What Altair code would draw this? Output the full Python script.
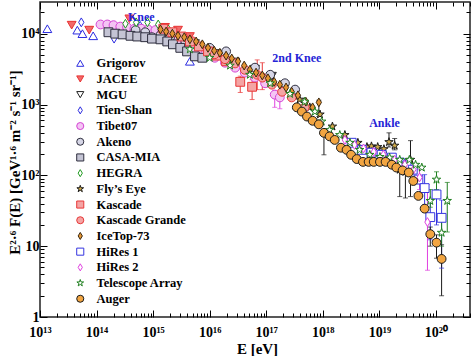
import json
import altair as alt
import pandas as pd

# ---------------- data (log10 E [eV], log10 E^2.6 F) ----------------
experiments = ["Grigorov", "JACEE", "MGU", "Tien-Shan", "Tibet07", "Akeno", "CASA-MIA",
               "HEGRA", "Fly\u2019s Eye", "Kascade", "Kascade Grande", "IceTop-73",
               "HiRes 1", "HiRes 2", "Telescope Array", "Auger"]

grigorov_e = [13.13, 13.66, 13.75, 13.94, 14.77, 15.09, 15.65]
grigorov_f = [4.07, 4.05, 4.00, 3.97, 4.12, 4.12, 3.61]
jacee_e = [13.56, 13.87, 14.58, 15.21, 15.44, 15.65]
jacee_f = [4.12, 4.05, 4.21, 4.09, 4.05, 3.96]
mgu_e = [15.39, 15.74, 16.09, 16.45, 16.80, 17.10]
mgu_f = [3.93, 3.86, 3.72, 3.60, 3.50, 3.40]
tienshan_e = [13.73, 14.31, 15.57, 15.83, 16.09]
tienshan_f = [4.16, 3.93, 3.86, 3.76, 3.67]
tibet_e = [14.07, 14.19, 14.30, 14.42, 14.54, 14.67, 14.79, 14.91, 15.04, 15.16, 15.30,
           15.44, 15.58, 15.74, 15.92, 16.09, 16.27, 16.45, 16.62, 16.80, 16.98, 17.15, 17.24]
tibet_f = [4.13, 4.13, 4.12, 4.10, 4.09, 4.07, 4.07, 4.06, 4.05, 4.02, 3.97,
           3.92, 3.86, 3.79, 3.72, 3.66, 3.59, 3.52, 3.45, 3.38, 3.30, 3.14, 3.10]
akeno_e = [14.69, 14.86, 14.98, 15.13, 15.30, 15.57, 16.00, 16.29, 16.80, 17.07, 17.33, 17.51]
akeno_f = [4.05, 4.02, 3.95, 3.98, 3.95, 3.89, 3.80, 3.75, 3.52, 3.42, 3.30, 3.21]
casamia_e = [14.21, 14.33, 14.46, 14.60, 14.72, 14.86, 14.98, 15.13, 15.25, 15.35, 15.48,
             15.60, 15.74, 15.87]
casamia_f = [4.02, 4.00, 3.99, 3.97, 3.96, 3.95, 3.93, 3.92, 3.89, 3.85, 3.80,
             3.75, 3.68, 3.66]
hegra_e = [14.51, 14.70, 14.90, 15.09, 15.27]
hegra_f = [4.14, 4.16, 4.16, 4.13, 4.06]
flys_e = [17.59, 17.77, 17.95, 18.17, 18.39, 18.62, 18.78, 18.86, 18.97, 19.08, 19.17,
          19.27, 19.36, 19.46, 19.55]
flys_f = [3.07, 2.96, 2.86, 2.69, 2.57, 2.46, 2.40, 2.41, 2.40, 2.37, 2.47,
          2.42, 2.08, 2.05, 2.22]
kascade_e = [15.18, 15.34, 15.50, 15.65, 15.81, 15.97, 16.13, 16.29, 16.54, 16.75]
kascade_f = [4.07, 4.02, 3.96, 3.89, 3.82, 3.75, 3.69, 3.61, 3.32, 3.25]
kgrande_e = [16.09, 16.27, 16.45, 16.62, 16.84, 16.93, 17.10, 17.28, 17.45, 17.68]
kgrande_f = [3.71, 3.64, 3.58, 3.49, 3.42, 3.38, 3.28, 3.18, 3.10, 2.96]
icetop_e = [15.13, 15.23, 15.34, 15.44, 15.55, 15.65, 15.76, 15.87, 15.97, 16.08, 16.18,
            16.29, 16.39, 16.50, 16.61, 16.71, 16.82, 16.93, 17.03, 17.14, 17.24, 17.35,
            17.45, 17.56, 17.70, 17.82, 17.93]
icetop_f = [4.06, 4.03, 4.00, 3.97, 3.95, 3.92, 3.89, 3.85, 3.80, 3.76, 3.73,
            3.69, 3.65, 3.61, 3.55, 3.49, 3.45, 3.41, 3.37, 3.32, 3.28, 3.24,
            3.18, 3.13, 3.04, 2.96, 3.03]
hires1_e = [18.51, 18.69, 18.86, 19.04, 19.22, 19.36, 19.48, 19.59, 19.69, 19.80, 19.90,
            20.01, 20.10]
hires1_f = [2.46, 2.36, 2.32, 2.29, 2.25, 2.18, 2.14, 2.08, 1.94, 1.82, 1.41, 1.73, 1.40]
hires2_e = [18.12, 18.39, 18.56, 18.72, 18.90, 19.07, 19.27, 19.45, 19.60, 19.71, 19.85]
hires2_f = [2.60, 2.50, 2.43, 2.38, 2.33, 2.29, 2.22, 2.15, 2.08, 1.97, 1.34]
ta_e = [15.65, 16.00, 16.36, 16.71, 17.07, 17.42, 17.68, 17.86, 17.98, 18.12, 18.30, 18.48,
        18.65, 18.83, 19.01, 19.18, 19.36, 19.53, 19.64, 19.75, 19.90, 20.01, 20.10, 20.20]
ta_f = [3.78, 3.66, 3.55, 3.42, 3.30, 3.15, 3.04, 2.90, 2.76, 2.64, 2.57, 2.46,
        2.36, 2.29, 2.26, 2.25, 2.22, 2.22, 2.15, 2.11, 1.64, 1.94, 1.19, 1.64]
auger_e = [17.54, 17.63, 17.72, 17.82, 17.93, 18.02, 18.12, 18.21, 18.32, 18.42, 18.50, 18.60,
           18.71, 18.81, 18.90, 19.01, 19.11, 19.22, 19.30, 19.41, 19.52, 19.60, 19.69, 19.80,
           19.90, 20.01, 20.10]
auger_f = [2.96, 2.90, 2.83, 2.77, 2.72, 2.60, 2.55, 2.50, 2.39, 2.36, 2.29, 2.23,
           2.19, 2.19, 2.19, 2.19, 2.19, 2.15, 2.11, 2.07, 2.04, 1.92, 1.71, 1.53,
           1.17, 1.05, 0.82]

series_e = [grigorov_e, jacee_e, mgu_e, tienshan_e, tibet_e, akeno_e, casamia_e, hegra_e,
            flys_e, kascade_e, kgrande_e, icetop_e, hires1_e, hires2_e, ta_e, auger_e]
series_f = [grigorov_f, jacee_f, mgu_f, tienshan_f, tibet_f, akeno_f, casamia_f, hegra_f,
            flys_f, kascade_f, kgrande_f, icetop_f, hires1_f, hires2_f, ta_f, auger_f]

# error bars: experiment, log10 E, low, high (log10)
err_exp = ["Tibet07", "Tibet07", "Kascade", "Kascade", "Kascade Grande", "Kascade Grande",
           "IceTop-73", "Fly\u2019s Eye", "Fly\u2019s Eye", "Fly\u2019s Eye", "Fly\u2019s Eye",
           "Fly\u2019s Eye", "HiRes 1", "HiRes 1", "HiRes 1", "HiRes 1", "HiRes 2", "HiRes 2",
           "Telescope Array", "Telescope Array", "Telescope Array", "Telescope Array",
           "Auger", "Auger", "Auger", "Auger"]
err_e = [17.15, 17.24, 16.54, 16.75, 16.84, 16.93,
         17.93, 19.17, 19.27, 19.36, 19.46, 19.55, 19.80, 19.90, 20.01, 20.10, 19.71, 19.85,
         19.90, 20.01, 20.10, 20.20, 18.02, 19.90, 20.01, 20.10]
err_lo = [2.96, 2.94, 3.17, 3.07, 3.21, 3.21,
          2.83, 2.40, 2.36, 1.70, 1.68, 1.70, 1.58, 1.09, 1.30, 0.69, 1.80, 0.66,
          1.55, 1.80, 1.00, 1.20, 2.29, 1.00, 0.83, 0.30]
err_hi = [3.20, 3.18, 3.40, 3.35, 3.63, 3.59,
          3.06, 2.60, 2.52, 2.22, 2.22, 2.49, 2.01, 1.65, 1.94, 1.65, 2.08, 1.87,
          1.80, 2.05, 1.35, 1.90, 2.65, 1.27, 1.16, 1.02]

DIAMOND = "M0,-1L0.6,0L0,1L-0.6,0Z"
STAR = ("M0,-1L0.2245,-0.309L0.951,-0.309L0.363,0.118L0.588,0.809L0,0.382L-0.588,0.809"
        "L-0.363,0.118L-0.951,-0.309L-0.2245,-0.309Z")
shapes = ["triangle-up", "triangle-down", "triangle-down", DIAMOND, "circle", "circle",
          "square", DIAMOND, STAR, "square", "circle", DIAMOND, "square", DIAMOND, STAR,
          "circle"]
strokes = ["#2b2be0", "#e83232", "#202020", "#2b2be0", "#d444d4", "#2e2e3e", "#2e2e3e",
           "#1f9a1f", "#1a1a1a", "#e83838", "#e83838", "#3a2810", "#3535e0", "#e040e0",
           "#1f7f1f", "#1a1a1a"]
fills = ["#ffffff", "#f26a6a", "#ffffff", "#ffffff", "#f4c4f4", "#d6d6e6", "#c4c4d4",
         "#ffffff", "#d2ac4a", "#f4a4a4", "#f4a4a4", "#e39433", "#ffffff", "#ffffff",
         "#ffffff", "#f2a541"]
err_colors = {"Tibet07": "#e040e0", "Kascade": "#e83838", "Kascade Grande": "#e83838",
              "IceTop-73": "#1a1a1a", "Fly\u2019s Eye": "#1a1a1a", "HiRes 1": "#3535e0",
              "HiRes 2": "#e040e0", "Telescope Array": "#1f7f1f", "Auger": "#1a1a1a"}

ann_text = ["Knee", "2nd Knee", "Ankle"]
ann_e = [14.79, 17.54, 19.09]
ann_f = [4.23, 3.66, 2.74]

x_tick_labels = ["10\u00b9\u00b3", "10\u00b9\u2074", "10\u00b9\u2075", "10\u00b9\u2076",
                 "10\u00b9\u2077", "10\u00b9\u2078", "10\u00b9\u2079", "10\u00b2\u2070"]
y_tick_labels = ["1", "10", "10\u00b2", "10\u00b3", "10\u2074"]

# ---------------- tables ----------------
rows = []
for name, es, fs in zip(experiments, series_e, series_f):
    for e, f in zip(es, fs):
        rows.append({"exp": name, "E": 10 ** e, "F": 10 ** f})
df = pd.DataFrame(rows)

err_df = pd.DataFrame({
    "exp": err_exp,
    "E": [10 ** v for v in err_e],
    "lo": [10 ** v for v in err_lo],
    "hi": [10 ** v for v in err_hi],
})
err_df["col"] = err_df["exp"].map(err_colors)
cap_df = pd.concat([
    err_df[["E", "col"]].assign(v=err_df["lo"]),
    err_df[["E", "col"]].assign(v=err_df["hi"]),
])
ann_df = pd.DataFrame({"label": ann_text, "E": [10 ** v for v in ann_e],
                       "F": [10 ** v for v in ann_f]})

x_ticks = [k * 10 ** n for n in range(13, 21) for k in range(1, 10) if k * 10 ** n <= 4e20]
y_ticks = [k * 10 ** n for n in range(0, 5) for k in range(1, 10) if k * 10 ** n <= 2.8e4]

FONT = "Liberation Serif"
major = "abs(log(datum.value)/LN10 - round(log(datum.value)/LN10)) < 0.01"
tick_size = {"condition": {"test": major, "value": -7}, "value": -4}
x_label_expr = f"({major}) ? {json.dumps(x_tick_labels, ensure_ascii=False)}[round(log(datum.value)/LN10) - 13] : ''"
y_label_expr = f"({major}) ? {json.dumps(y_tick_labels, ensure_ascii=False)}[round(log(datum.value)/LN10)] : ''"

x_scale = alt.Scale(type="log", domain=[1e13, 4e20], nice=False)
y_scale = alt.Scale(type="log", domain=[1, 2.8e4], nice=False)

common_axis = dict(domain=False, grid=False, tickColor="black", tickWidth=1, tickSize=tick_size,
                   labelFont=FONT, labelFontSize=14, labelFontWeight="bold", labelColor="black",
                   labelOverlap=False, labelFlush=False, labelBound=False,
                   titleFont=FONT, titleFontSize=15, titleFontWeight="bold", titleColor="black")

x_axis = alt.Axis(values=x_ticks, labelExpr=x_label_expr, labelPadding=15, orient="bottom",
                  title="E [eV]", titleX=217, titleY=31, titleAlign="center",
                  titleBaseline="middle", **common_axis)
y_axis = alt.Axis(values=y_ticks, labelExpr=y_label_expr, labelPadding=8, orient="left",
                  title="E\u00b2\u00b7\u2076 F(E) [GeV\u00b9\u00b7\u2076 m\u207b\u00b2 s\u207b\u00b9 sr\u207b\u00b9]",
                  titleX=-26, titleY=160, titleAlign="center", titleBaseline="middle",
                  titleAngle=-90, **common_axis)
x_axis_top = alt.Axis(values=x_ticks, labels=False, orient="top", title=None,
                      domain=False, grid=False, tickColor="black", tickWidth=1, tickSize=tick_size)
y_axis_right = alt.Axis(values=y_ticks, labels=False, orient="right", title=None,
                        domain=False, grid=False, tickColor="black", tickWidth=1, tickSize=tick_size)

legend = alt.Legend(orient="none", legendX=34, legendY=55, title=None, padding=0,
                    labelFont=FONT, labelFontSize=12.5, labelFontWeight="bold",
                    labelColor="black", symbolSize=50, symbolStrokeWidth=1,
                    rowPadding=2.7, labelOffset=10, symbolOffset=0)

errbars = alt.Chart(err_df).mark_rule(strokeWidth=1).encode(
    x=alt.X("E:Q", scale=x_scale, axis=None),
    y=alt.Y("lo:Q", scale=y_scale, axis=None),
    y2="hi:Q",
    color=alt.Color("col:N", scale=None),
)
caps = alt.Chart(cap_df).mark_tick(orient="horizontal", size=5, thickness=1).encode(
    x=alt.X("E:Q", scale=x_scale, axis=None),
    y=alt.Y("v:Q", scale=y_scale, axis=None),
    color=alt.Color("col:N", scale=None),
)
points = alt.Chart(df).mark_point(filled=False, opacity=1, fillOpacity=1, strokeWidth=1,
                                  size=78).encode(
    x=alt.X("E:Q", scale=x_scale, axis=x_axis),
    y=alt.Y("F:Q", scale=y_scale, axis=y_axis),
    shape=alt.Shape("exp:N", scale=alt.Scale(domain=experiments, range=shapes), legend=legend),
    stroke=alt.Stroke("exp:N", scale=alt.Scale(domain=experiments, range=strokes), legend=legend),
    fill=alt.Fill("exp:N", scale=alt.Scale(domain=experiments, range=fills), legend=legend),
)
texts = alt.Chart(ann_df).mark_text(font=FONT, fontWeight="bold", fontSize=12,
                                    color="#2424d6").encode(
    x=alt.X("E:Q", scale=x_scale, axis=None),
    y=alt.Y("F:Q", scale=y_scale, axis=None),
    text="label:N",
)
frame_axes = alt.Chart(df).mark_point(opacity=0).encode(
    x=alt.X("E:Q", scale=x_scale, axis=x_axis_top),
    y=alt.Y("F:Q", scale=y_scale, axis=y_axis_right),
)

chart = alt.layer(errbars, caps, points, texts, frame_axes).resolve_axis(
    x="independent", y="independent").properties(
    width=430, height=315,
    autosize="none",
    padding={"left": 40, "top": 2, "right": 4, "bottom": 39},
    background="white",
).configure_view(stroke="#222222", strokeWidth=1.5)

chart.save("out.html", embed_options={"renderer": "svg", "actions": False})
